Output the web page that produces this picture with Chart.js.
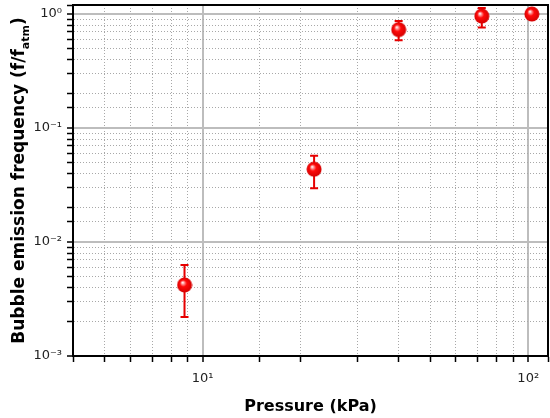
<!DOCTYPE html>
<html>
<head>
<meta charset="utf-8">
<script src="https://cdn.jsdelivr.net/npm/chart.js@4.4.1/dist/chart.umd.min.js"></script>
<style>
  html, body { margin: 0; padding: 0; background: #fff; }
  #wrap { width: 550px; height: 418px; position: relative; }
</style>
</head>
<body>
<div id="wrap"><canvas id="myChart"></canvas></div>
<script>
// values
let pressure = [8.8, 22.0, 40.0, 72.0, 102.6];      // kPa
let frequency = [0.0042, 0.0435, 0.73, 0.96, 1.0]; // f/f_atm
let errHigh = [0.0063, 0.057, 0.87, 1.13, 1.0];
let errLow = [0.0022, 0.0296, 0.59, 0.76, 1.0];

let xTickValues = [10, 100];
let xTickLabels = ['10¹', '10²'];
let yTickValues = [0.001, 0.01, 0.1, 1];
let yTickLabels = ['10⁻³', '10⁻²', '10⁻¹', '10⁰'];

let ctx = document.getElementById("myChart");

isDecade = (v) => {
  let l = Math.log10(v);
  return Math.abs(l - Math.round(l)) < 1e-6;
}

labelFor = (value, values, labels) => {
  for (let i = 0; i < values.length; i++) {
    if (Math.abs(Math.log10(value) - Math.log10(values[i])) < 1e-6) return labels[i];
  }
  return '';
}

// shiny red ball used as point style
let ball = document.createElement('canvas');
ball.width = 16;
ball.height = 16;
let bctx = ball.getContext('2d');
let grad = bctx.createRadialGradient(6, 5.5, 0.3, 8, 8, 8);
grad.addColorStop(0, '#ffffff');
grad.addColorStop(0.15, '#ff9a9a');
grad.addColorStop(0.4, '#ff0a0a');
grad.addColorStop(1, '#d00000');
bctx.fillStyle = grad;
bctx.beginPath();
bctx.arc(8, 8, 7.5, 0, Math.PI * 2);
bctx.fill();

let gridColor = (c) => c.tick && isDecade(c.tick.value) ? '#bdbdbd' : '#a8a8a8';
let gridWidth = (c) => c.tick && isDecade(c.tick.value) ? 2 : 1;
let gridDash = (c) => c.tick && !isDecade(c.tick.value) ? [1, 2] : [];

let errorBars = {
  id: 'errorBars',
  beforeDatasetsDraw(chart) {
    let c = chart.ctx;
    let xs = chart.scales.x, ys = chart.scales.y;
    c.save();
    c.strokeStyle = '#e60000';
    c.lineWidth = 2;
    for (let i = 0; i < pressure.length; i++) {
      let x = xs.getPixelForValue(pressure[i]);
      let yt = ys.getPixelForValue(errHigh[i]);
      let yb = ys.getPixelForValue(errLow[i]);
      c.beginPath();
      c.moveTo(x, yt); c.lineTo(x, yb);
      c.moveTo(x - 4, yt); c.lineTo(x + 4, yt);
      c.moveTo(x - 4, yb); c.lineTo(x + 4, yb);
      c.stroke();
    }
    c.restore();
  }
};

let frameAndTitle = {
  id: 'frameAndTitle',
  afterDraw(chart) {
    let c = chart.ctx;
    let a = chart.chartArea;
    c.save();
    c.strokeStyle = '#000';
    c.lineWidth = 2;
    c.beginPath();
    c.moveTo(a.left, a.top); c.lineTo(a.right, a.top); c.lineTo(a.right, a.bottom);
    c.stroke();

    // y title with subscript
    let main = 'Bubble emission frequency (f/f';
    let sub = 'atm';
    let end = ')';
    let big = 'bold 17px "DejaVu Sans"';
    let small = 'bold 11px "DejaVu Sans"';
    c.font = big;
    let w1 = c.measureText(main).width;
    let w3 = c.measureText(end).width;
    c.font = small;
    let w2 = c.measureText(sub).width;
    let total = w1 + w2 + w3;
    c.translate(20, (a.top + a.bottom) / 2);
    c.rotate(-Math.PI / 2);
    c.fillStyle = '#000';
    c.textBaseline = 'middle';
    c.textAlign = 'left';
    let x0 = -total / 2;
    c.font = big;
    c.fillText(main, x0, 0);
    c.font = small;
    c.fillText(sub, x0 + w1, 6);
    c.font = big;
    c.fillText(end, x0 + w1 + w2, 0);
    c.restore();
  }
};

let myChart = new Chart(ctx, {
  type: 'scatter',
  data: {
    datasets: [{
      label: 'Bubble emission frequency',
      data: pressure.map((p, i) => ({ x: p, y: frequency[i] })),
      pointStyle: ball,
      pointRadius: 8,
      pointHoverRadius: 8,
      clip: false
    }]
  },
  options: {
    responsive: true,
    maintainAspectRatio: false,
    animation: false,
    events: [],
    layout: { autoPadding: false, padding: { left: 0, right: 2, top: 5, bottom: 0 } },
    plugins: {
      legend: { display: false },
      tooltip: { enabled: false }
    },
    scales: {
      x: {
        type: 'logarithmic',
        min: 4,
        max: 115,
        afterFit: (s) => {
          s.height = 62;
          s.paddingLeft = 0;
          s.paddingRight = 0;
        },
        border: { color: '#000', width: 2, dash: gridDash },
        grid: {
          color: gridColor,
          lineWidth: gridWidth,
          tickColor: '#000',
          tickLength: 6,
          tickWidth: 1.5
        },
        ticks: {
          autoSkip: false,
          maxRotation: 0,
          padding: 9,
          color: '#222',
          font: { family: 'DejaVu Sans', size: 13 },
          callback: (v) => labelFor(v, xTickValues, xTickLabels)
        },
        title: {
          display: true,
          text: 'Pressure (kPa)',
          color: '#000',
          font: { family: 'DejaVu Sans', size: 16, weight: 'bold' },
          padding: { top: 0, bottom: 2 }
        }
      },
      y: {
        type: 'logarithmic',
        min: 0.001,
        max: 1.2,
        afterFit: (s) => {
          s.width = 73;
          s.paddingTop = 0;
          s.paddingBottom = 0;
        },
        border: { color: '#000', width: 2, dash: gridDash },
        grid: {
          color: gridColor,
          lineWidth: gridWidth,
          tickColor: '#000',
          tickLength: 6,
          tickWidth: 1.5
        },
        ticks: {
          autoSkip: false,
          padding: 5,
          color: '#222',
          font: { family: 'DejaVu Sans', size: 13 },
          callback: (v) => labelFor(v, yTickValues, yTickLabels)
        }
      }
    }
  },
  plugins: [errorBars, frameAndTitle]
});
</script>
</body>
</html>
